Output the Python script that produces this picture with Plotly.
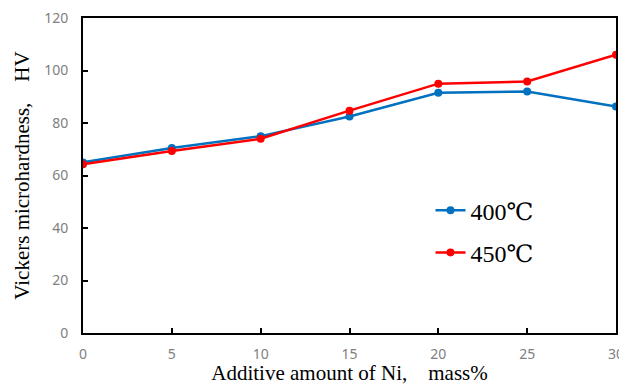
import plotly.graph_objects as go

ni_amount = [0, 5, 10, 15, 20, 25, 30]
hv_400 = [65.0, 70.5, 75.0, 82.5, 91.5, 92.0, 86.3]
hv_450 = [64.3, 69.3, 74.0, 84.7, 95.0, 95.8, 106.0]
series_names = ["400℃", "450℃"]
x_ticks = [0, 5, 10, 15, 20, 25, 30]
y_ticks = [0, 20, 40, 60, 80, 100, 120]

fig = go.Figure()
fig.add_trace(go.Scatter(x=ni_amount, y=hv_400, name=series_names[0], mode="lines+markers",
                         line=dict(color="#0070C0", width=2.5), marker=dict(size=8, color="#0070C0"),
                         legendgroup="a"))
fig.add_trace(go.Scatter(x=ni_amount, y=hv_450, name=series_names[1], mode="lines+markers",
                         line=dict(color="#FF0000", width=2.5), marker=dict(size=8, color="#FF0000"),
                         legendgroup="b"))

tickfont = dict(family="Noto Sans, Liberation Sans, sans-serif", size=14, color="#808080")
titlefont = dict(family="Liberation Serif, Times New Roman, serif", size=21, color="#000000")

fig.update_layout(
    width=627, height=377,
    margin=dict(l=75, r=19, t=10, b=52),
    paper_bgcolor="white", plot_bgcolor="white",
    showlegend=True,
    legend=dict(x=0.652, y=0.46, xanchor="left", yanchor="top",
                font=dict(family="Liberation Serif, DejaVu Serif, serif", size=24, color="#000000"),
                bgcolor="rgba(0,0,0,0)", tracegroupgap=8),
    xaxis=dict(range=[0, 30], tickvals=x_ticks, showgrid=False, zeroline=False, automargin=False,
               showline=True, linecolor="black", linewidth=2, mirror=True,
               ticks="inside", ticklen=5, tickwidth=1.5, tickcolor="black",
               tickfont=tickfont, ticklabelstandoff=7, ticklabeloverflow="allow",
               title=dict(text="Additive amount of Ni,\u3000mass%", font=titlefont, standoff=4)),
    yaxis=dict(range=[0, 120], tickvals=y_ticks, showgrid=False, zeroline=False, automargin=False,
               showline=True, linecolor="black", linewidth=2, mirror=True,
               ticks="inside", ticklen=5, tickwidth=1.5, tickcolor="black",
               tickfont=tickfont, ticklabelstandoff=10, ticklabeloverflow="allow",
               title=dict(text="Vickers microhardness,\u3000HV", font=titlefont, standoff=9)),
)

fig.write_html("out.html")
